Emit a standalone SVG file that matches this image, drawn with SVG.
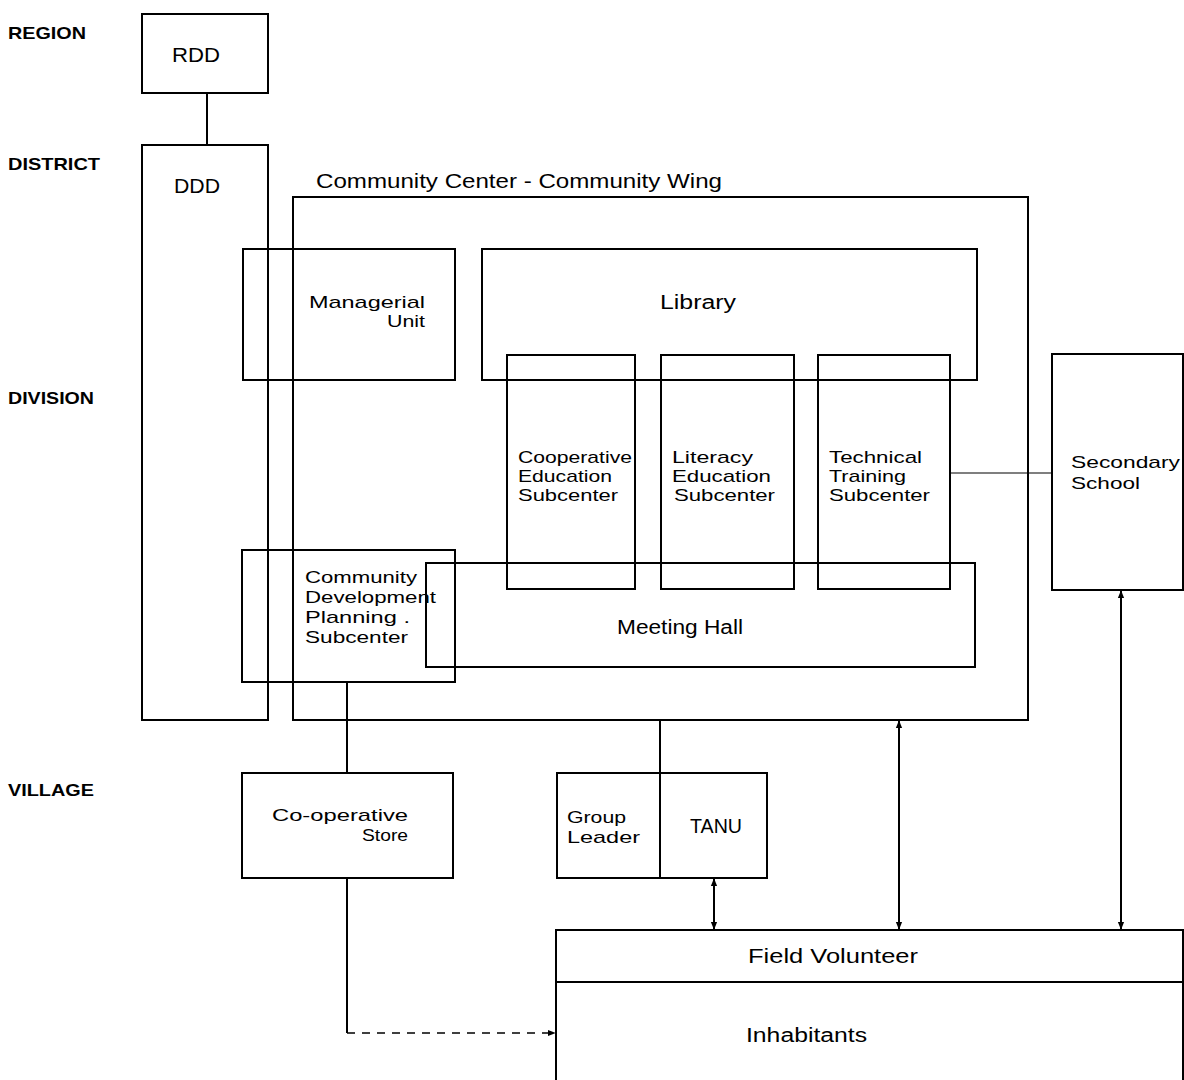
<svg xmlns="http://www.w3.org/2000/svg" width="1184" height="1080" viewBox="0 0 1184 1080">
<defs>
<style>
.bg{fill:#ffffff}
.box{fill:none;stroke:#000;stroke-width:2}
.ln{fill:none;stroke:#000;stroke-width:2}
.thin{fill:none;stroke:#000;stroke-width:1.2}
.dash{fill:none;stroke:#000;stroke-width:1.6;stroke-dasharray:8 7}
.t{font-family:"Liberation Sans",Arial,sans-serif;font-size:20px;fill:#000}
.m{font-family:"Liberation Sans",Arial,sans-serif;font-size:17px;fill:#000}
.lv{font-family:"Liberation Sans",Arial,sans-serif;font-size:17px;fill:#000;font-weight:bold}
</style>
<marker id="ah" viewBox="0 0 10 10" refX="9" refY="5" markerWidth="8" markerHeight="8" orient="auto-start-reverse" markerUnits="userSpaceOnUse">
<path d="M0,1 L10,5 L0,9 Z" fill="#000"/>
</marker>
</defs>
<rect class="bg" x="0" y="0" width="1184" height="1080"/>

<g id="levels">
<text class="lv" x="8" y="39" textLength="78" lengthAdjust="spacingAndGlyphs">REGION</text>
<text class="lv" x="8" y="170" textLength="92" lengthAdjust="spacingAndGlyphs">DISTRICT</text>
<text class="lv" x="8" y="404" textLength="86" lengthAdjust="spacingAndGlyphs">DIVISION</text>
<text class="lv" x="8" y="796" textLength="86" lengthAdjust="spacingAndGlyphs">VILLAGE</text>
</g>

<g id="connectors">
<line class="ln" x1="207" y1="93" x2="207" y2="145"/>
<line class="thin" x1="950" y1="473" x2="1052" y2="473"/>
<line class="ln" x1="347" y1="682" x2="347" y2="773"/>
<line class="ln" x1="660" y1="720" x2="660" y2="773"/>
<polyline class="ln" points="347,878 347,1033"/>
<line class="dash" x1="347" y1="1033" x2="555" y2="1033" marker-end="url(#ah)"/>
<line class="ln" x1="714" y1="879" x2="714" y2="929" marker-start="url(#ah)" marker-end="url(#ah)"/>
<line class="ln" x1="899" y1="721" x2="899" y2="929" marker-start="url(#ah)" marker-end="url(#ah)"/>
<line class="ln" x1="1121" y1="591" x2="1121" y2="929" marker-start="url(#ah)" marker-end="url(#ah)"/>
</g>

<g id="rdd">
<rect class="box" x="142" y="14" width="126" height="79"/>
<text class="t" x="172" y="62" textLength="48" lengthAdjust="spacingAndGlyphs">RDD</text>
</g>

<g id="ddd">
<rect class="box" x="142" y="145" width="126" height="575"/>
<text class="t" x="174" y="193" textLength="46" lengthAdjust="spacingAndGlyphs">DDD</text>
</g>

<g id="community-center">
<rect class="box" x="293" y="197" width="735" height="523"/>
<text class="t" x="316" y="188" textLength="406" lengthAdjust="spacingAndGlyphs">Community Center - Community Wing</text>
</g>

<g id="managerial-unit">
<rect class="box" x="243" y="249" width="212" height="131"/>
<text class="m" x="309" y="308" textLength="116" lengthAdjust="spacingAndGlyphs">Managerial</text>
<text class="m" x="387" y="327" textLength="38" lengthAdjust="spacingAndGlyphs">Unit</text>
</g>

<g id="library">
<rect class="box" x="482" y="249" width="495" height="131"/>
<text class="t" x="660" y="309" textLength="76" lengthAdjust="spacingAndGlyphs">Library</text>
</g>

<g id="coop-education">
<rect class="box" x="507" y="355" width="128" height="234"/>
<text class="m" x="518" y="463" textLength="114" lengthAdjust="spacingAndGlyphs">Cooperative</text>
<text class="m" x="518" y="482" textLength="94" lengthAdjust="spacingAndGlyphs">Education</text>
<text class="m" x="518" y="501" textLength="100" lengthAdjust="spacingAndGlyphs">Subcenter</text>
</g>

<g id="literacy-education">
<rect class="box" x="661" y="355" width="133" height="234"/>
<text class="m" x="672" y="463" textLength="81" lengthAdjust="spacingAndGlyphs">Literacy</text>
<text class="m" x="672" y="482" textLength="99" lengthAdjust="spacingAndGlyphs">Education</text>
<text class="m" x="674" y="501" textLength="101" lengthAdjust="spacingAndGlyphs">Subcenter</text>
</g>

<g id="technical-training">
<rect class="box" x="818" y="355" width="132" height="234"/>
<text class="m" x="829" y="463" textLength="93" lengthAdjust="spacingAndGlyphs">Technical</text>
<text class="m" x="829" y="482" textLength="77" lengthAdjust="spacingAndGlyphs">Training</text>
<text class="m" x="829" y="501" textLength="101" lengthAdjust="spacingAndGlyphs">Subcenter</text>
</g>

<g id="meeting-hall">
<rect class="box" x="426" y="563" width="549" height="104"/>
<text class="t" x="617" y="634" textLength="126" lengthAdjust="spacingAndGlyphs">Meeting Hall</text>
</g>

<g id="cd-planning">
<rect class="box" x="242" y="550" width="213" height="132"/>
<text class="m" x="305" y="583" textLength="112" lengthAdjust="spacingAndGlyphs">Community</text>
<text class="m" x="305" y="603" textLength="131" lengthAdjust="spacingAndGlyphs">Development</text>
<text class="m" x="305" y="623" textLength="105" lengthAdjust="spacingAndGlyphs">Planning .</text>
<text class="m" x="305" y="643" textLength="103" lengthAdjust="spacingAndGlyphs">Subcenter</text>
</g>

<g id="secondary-school">
<rect class="box" x="1052" y="354" width="131" height="236"/>
<text class="m" x="1071" y="468" textLength="109" lengthAdjust="spacingAndGlyphs">Secondary</text>
<text class="m" x="1071" y="489" textLength="69" lengthAdjust="spacingAndGlyphs">School</text>
</g>

<g id="coop-store">
<rect class="box" x="242" y="773" width="211" height="105"/>
<text class="m" x="272" y="821" textLength="136" lengthAdjust="spacingAndGlyphs">Co-operative</text>
<text class="m" x="362" y="841" textLength="46" lengthAdjust="spacingAndGlyphs">Store</text>
</g>

<g id="group-leader">
<rect class="box" x="557" y="773" width="103" height="105"/>
<text class="m" x="567" y="823" textLength="59" lengthAdjust="spacingAndGlyphs">Group</text>
<text class="m" x="567" y="843" textLength="73" lengthAdjust="spacingAndGlyphs">Leader</text>
</g>

<g id="tanu">
<rect class="box" x="660" y="773" width="107" height="105"/>
<text class="t" x="690" y="833" textLength="52" lengthAdjust="spacingAndGlyphs">TANU</text>
</g>

<g id="field-volunteer">
<rect class="box" x="556" y="930" width="627" height="52"/>
<text class="t" x="748" y="963" textLength="170" lengthAdjust="spacingAndGlyphs">Field  Volunteer</text>
</g>

<g id="inhabitants">
<rect class="box" x="556" y="982" width="627" height="110"/>
<text class="t" x="746" y="1042" textLength="121" lengthAdjust="spacingAndGlyphs">Inhabitants</text>
</g>
</svg>
